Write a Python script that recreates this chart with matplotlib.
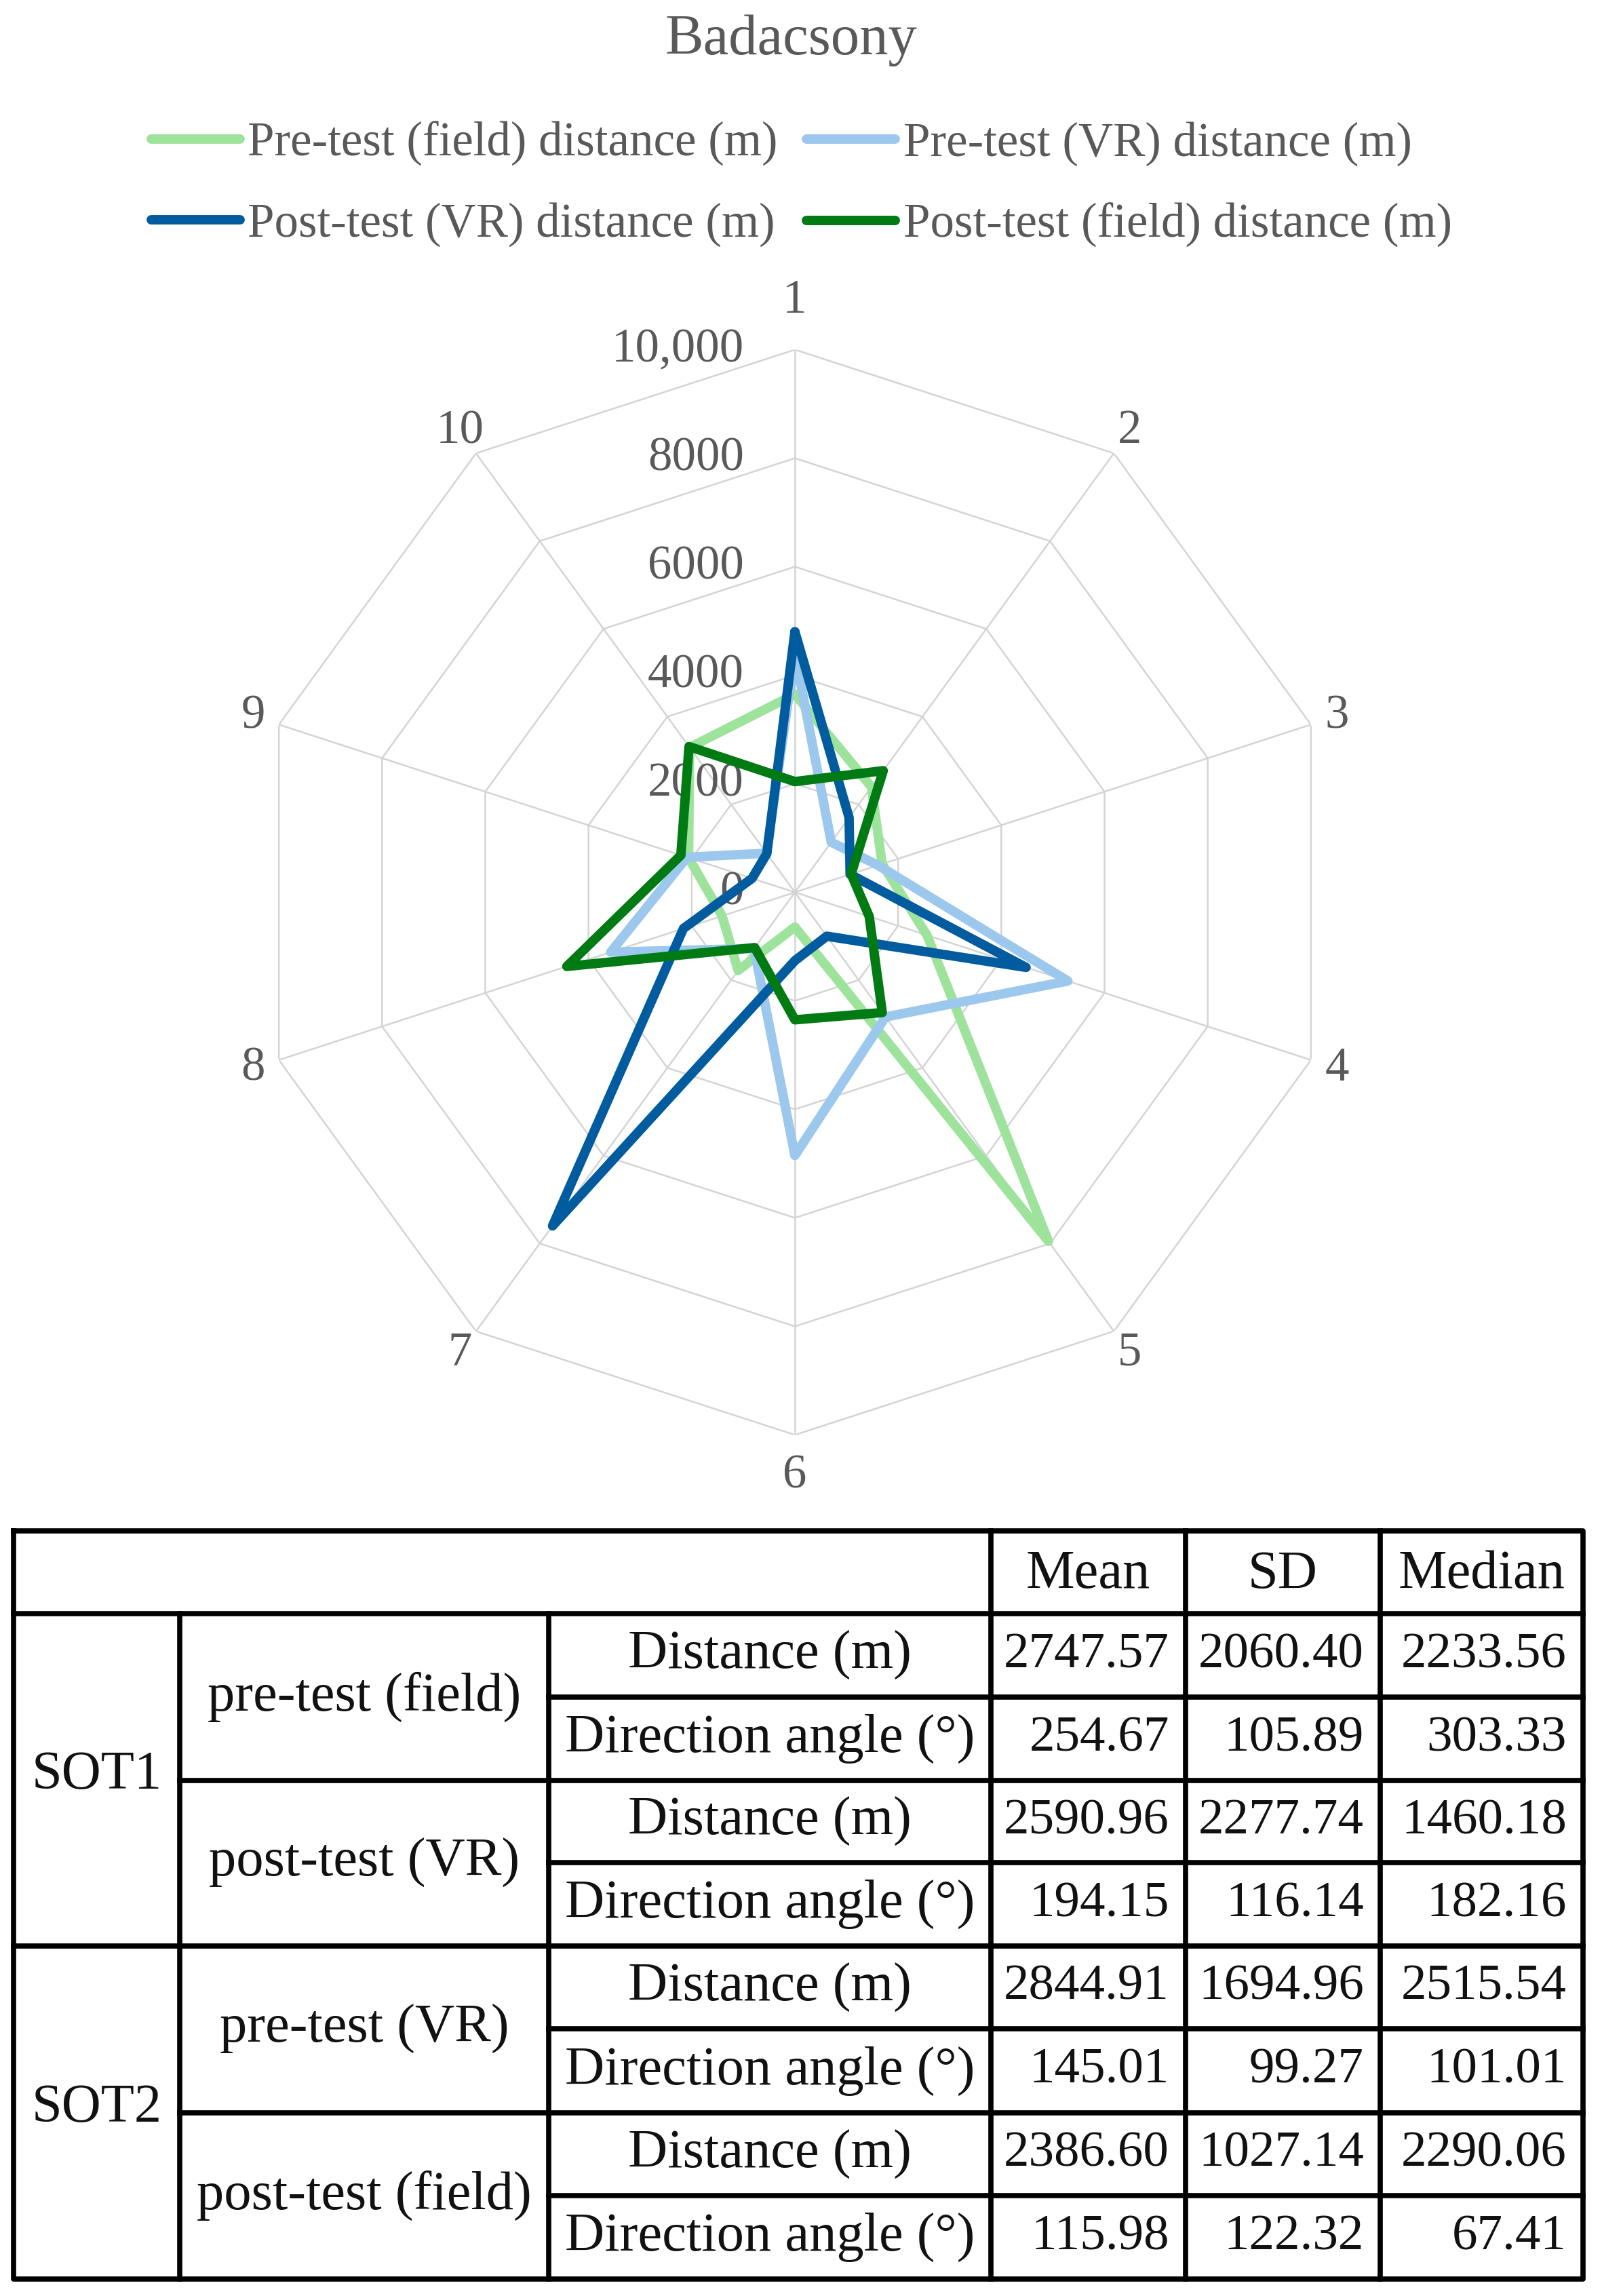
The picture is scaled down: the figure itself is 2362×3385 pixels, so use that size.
import matplotlib
matplotlib.use("Agg")
import matplotlib.pyplot as plt
import numpy as np

plt.rcParams['font.family'] = ['Liberation Serif', 'DejaVu Serif']

# ---- chart data ----
title = "Badacsony"
axis_names = ["1", "2", "3", "4", "5", "6", "7", "8", "9", "10"]
series_names = ["Pre-test (field) distance (m)", "Pre-test (VR) distance (m)",
                "Post-test (VR) distance (m)", "Post-test (field) distance (m)"]
pre_field = [3650, 2400, 1690, 2560, 7950, 640, 1780, 1410, 2060, 3300]
pre_vr = [4400, 1140, 1610, 5290, 2840, 4850, 1280, 3570, 2090, 890]
post_vr = [4800, 1700, 1070, 4480, 1000, 1260, 7600, 2160, 830, 880]
post_field = [2040, 2770, 1090, 1440, 2740, 2350, 1260, 4420, 2210, 3320]
r_ticks = [0, 2000, 4000, 6000, 8000, 10000]
r_tick_labels = ["0", "2000", "4000", "6000", "8000", "10,000"]

# ---- table data ----
stat_cols = ["Mean", "SD", "Median"]
sot_names = ["SOT1", "SOT2"]
test_names = ["pre-test (field)", "post-test (VR)", "pre-test (VR)", "post-test (field)"]
measure_names = ["Distance (m)", "Direction angle (°)"]
stat_mean = [2747.57, 254.67, 2590.96, 194.15, 2844.91, 145.01, 2386.60, 115.98]
stat_sd = [2060.40, 105.89, 2277.74, 116.14, 1694.96, 99.27, 1027.14, 122.32]
stat_median = [2233.56, 303.33, 1460.18, 182.16, 2515.54, 101.01, 2290.06, 67.41]

colors = ["#9de39c", "#9bc8ec", "#005c9e", "#007a12"]
gray_txt = "#595959"
grid_col = "#d4d4d4"

W, H = 2362, 3385
fig = plt.figure(figsize=(W / 100, H / 100), dpi=100)

# table drawn in pixel coords on a full-figure axes
tab = fig.add_axes([0, 0, 1, 1])
tab.set_xlim(0, W)
tab.set_ylim(H, 0)
tab.axis("off")

# radar
cx, cy, R = 1172, 1315.5, 800
ax = fig.add_axes([(cx - R) / W, (H - cy - R) / H, 2 * R / W, 2 * R / H], projection="polar")
ax.set_theta_zero_location("N")
ax.set_theta_direction(-1)
ax.set_ylim(0, r_ticks[-1])
ax.set_xticks([])
ax.set_yticks([])
ax.grid(False)
ax.spines["polar"].set_visible(False)
ax.patch.set_alpha(0)

theta = np.deg2rad(np.arange(len(axis_names)) * 360 / len(axis_names))
theta_c = np.append(theta, theta[0])

for r in r_ticks[1:]:
    ax.plot(theta_c, [r] * len(theta_c), color=grid_col, lw=1.8, zorder=1)
for t in theta:
    ax.plot([t, t], [0, r_ticks[-1]], color=grid_col, lw=1.8, zorder=1)

lines = []
for vals, col in zip([pre_field, pre_vr, post_vr, post_field], colors):
    v = np.append(vals, vals[0])
    ln, = ax.plot(theta_c, v, color=col, lw=10, solid_joinstyle="round",
                  solid_capstyle="round", zorder=3)
    lines.append(ln)

for t, name in zip(theta, axis_names):
    rr = 10900 if np.isclose(np.cos(t) ** 2, 1) else 10500
    if np.isclose(t, np.pi):
        rr = 10750
    ax.text(t, rr, name, ha="center", va="center", fontsize=51, color=gray_txt,
            clip_on=False)

for r, lab in zip(r_ticks, r_tick_labels):
    ax.annotate(lab, xy=(0, r), xytext=(-54, 0), textcoords="offset points",
                ha="right", va="center", fontsize=51, color=gray_txt,
                annotation_clip=False, zorder=2)

fig.text(1166 / W, 1 - 60 / H, title, ha="center", va="center", fontsize=61, color=gray_txt)

order = [0, 2, 1, 3]
fig.legend([lines[i] for i in order], [series_names[i] for i in order],
           loc="center", bbox_to_anchor=(0.5004, 1 - 272 / H), ncol=2, frameon=False,
           fontsize=51, handlelength=1.85, handletextpad=0.16, columnspacing=0.6,
           labelspacing=0.75, labelcolor=gray_txt)

# ---- table ----
xs = [20, 265, 809, 1461, 1748, 2035, 2334]
ys = [2257, 2379, 2502, 2625, 2746, 2869, 2991, 3115, 3237, 3360]
lk = dict(color="black", lw=5.5, solid_capstyle="projecting")

tab.plot([xs[0], xs[-1], xs[-1], xs[0], xs[0]], [ys[0], ys[0], ys[-1], ys[-1], ys[0]], **lk)
for x in xs[3:6]:
    tab.plot([x, x], [ys[0], ys[-1]], **lk)
for x in xs[1:3]:
    tab.plot([x, x], [ys[1], ys[-1]], **lk)
tab.plot([xs[0], xs[-1]], [ys[1], ys[1]], **lk)
tab.plot([xs[0], xs[-1]], [ys[5], ys[5]], **lk)
for y in [ys[3], ys[7]]:
    tab.plot([xs[1], xs[-1]], [y, y], **lk)
for y in [ys[2], ys[4], ys[6], ys[8]]:
    tab.plot([xs[2], xs[-1]], [y, y], **lk)

tk = dict(fontsize=58, color="#111111", va="center")
nk = dict(fontsize=54, color="#111111", va="center")
for j, name in enumerate(stat_cols):
    tab.text((xs[3 + j] + xs[4 + j]) / 2, (ys[0] + ys[1]) / 2 + 4, name, ha="center", **tk)
for k, name in enumerate(sot_names):
    tab.text((xs[0] + xs[1]) / 2, ys[1 + 4 * k] + (ys[5 + 4 * k] - ys[1 + 4 * k]) / 2 - 6,
             name, ha="center", **tk)
for k, name in enumerate(test_names):
    tab.text((xs[1] + xs[2]) / 2, ys[2 + 2 * k], name, ha="center", **tk)
for i in range(8):
    yc = (ys[1 + i] + ys[2 + i]) / 2
    tab.text((xs[2] + xs[3]) / 2, yc, measure_names[i % 2], ha="center", **tk)
    for j, vals in enumerate([stat_mean, stat_sd, stat_median]):
        tab.text(xs[4 + j] - 24, yc, f"{vals[i]:.2f}", ha="right", **nk)

fig.savefig("out.png", dpi=100, facecolor="white")
